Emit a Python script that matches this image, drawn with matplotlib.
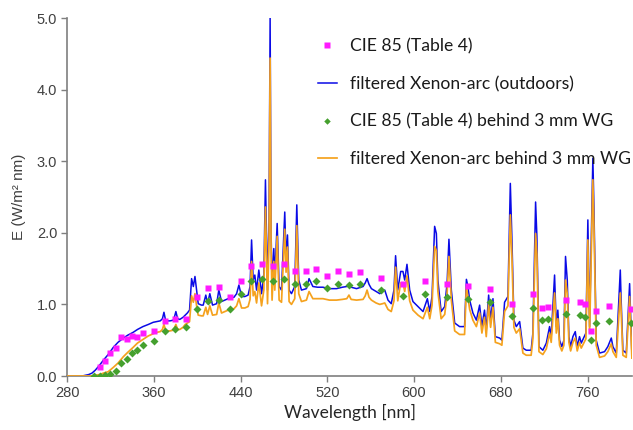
import matplotlib
matplotlib.use("Agg")
import matplotlib.pyplot as plt
from matplotlib.ticker import FormatStrFormatter

# CIE 85 (Table 4) points
cie_wl = [310, 315, 320, 325, 330, 335, 340, 345, 350, 360, 370, 380, 390, 400, 410, 420,
          430, 440, 450, 460, 470, 480, 490, 500, 510, 520, 530, 540, 550, 570, 590, 610,
          630, 650, 670, 690, 710, 718, 724, 740, 753, 758, 763, 768, 780, 800]
cie_out = [0.12, 0.21, 0.32, 0.39, 0.55, 0.52, 0.56, 0.55, 0.60, 0.63, 0.77, 0.80, 0.80, 1.10,
           1.23, 1.24, 1.11, 1.33, 1.54, 1.56, 1.54, 1.56, 1.47, 1.47, 1.49, 1.39, 1.47, 1.43,
           1.45, 1.37, 1.28, 1.33, 1.28, 1.26, 1.21, 1.01, 1.14, 0.945, 0.97, 1.06, 1.04, 1.01,
           0.63, 0.91, 0.98, 0.93]
cie_wg_wl = [305, 310, 315, 320, 325, 330, 335, 340, 345, 350, 360, 370, 380, 390, 400, 410,
             420, 430, 440, 450, 460, 470, 480, 490, 500, 510, 520, 530, 540, 550, 570, 590,
             610, 630, 650, 670, 690, 710, 718, 724, 740, 753, 758, 763, 768, 780, 800]
cie_wg = [0.0, 0.0, 0.01, 0.03, 0.07, 0.18, 0.24, 0.32, 0.36, 0.43, 0.49, 0.63, 0.66, 0.68,
          0.94, 1.05, 1.06, 0.94, 1.15, 1.33, 1.35, 1.33, 1.36, 1.28, 1.28, 1.32, 1.23, 1.29,
          1.27, 1.28, 1.20, 1.12, 1.15, 1.10, 1.07, 1.03, 0.84, 0.945, 0.78, 0.79, 0.87, 0.85,
          0.83, 0.50, 0.74, 0.77, 0.74]

# filtered Xenon-arc spectra
xe_wl = [280, 294, 297, 300, 303, 306, 310, 313.5, 318, 322.7, 327, 332, 336, 341, 345, 350,
         355, 359.5, 363, 366, 368, 369.4, 371, 375, 378, 379, 380.4, 382, 384, 387, 389, 391,
         393, 394.9, 396.5, 398, 399.5, 401, 404, 405.6, 408, 409.6, 411.7, 414.2, 418, 420,
         422.5, 428.6, 434, 436.4, 438.5, 441, 444, 447, 448.8, 450.2, 451.7, 453.2, 454.8,
         456.9, 459.4, 461.5, 463.0, 464.9, 466.3, 467.3, 468.2, 469.1, 470.7, 471.6, 473.8,
         475.6, 477.8, 480.8, 482.0, 483.3, 484.8, 487.0, 490.0, 491.9, 493.7, 496.2, 500.8,
         503.2, 506.7, 511, 516, 522, 528.5, 534, 538, 540, 542, 547, 553, 555, 556.7, 558.5,
         560.7, 565, 568.4, 571, 573, 576, 579, 581.5, 583, 585, 587.7, 589.8, 591.4, 593.5,
         596, 599, 603.7, 608.3, 612.3, 614.5, 616.6, 619.0, 620.6, 622, 625, 628.3, 630.5,
         632.2, 634.4, 637.5, 642, 646.6, 648.3, 649.7, 651.3, 654.3, 657.5, 660.5, 662.6,
         665, 666.6, 668.8, 670.6, 672.8, 675, 679, 681, 683.5, 686.6, 688.8, 690.3, 692.1,
         694.3, 697.4, 700.4, 703.5, 708, 709.6, 712.1, 713.3, 715.2, 718.8, 722, 725, 726.5,
         729.6, 731.2, 732.6, 734.2, 736.3, 738.2, 739.7, 741.3, 742.8, 744.4, 746.5, 748.7,
         750.5, 752.6, 754.2, 758.5, 760.3, 761.9, 764.9, 765.9, 768, 771.1, 775.7, 778.7,
         781.9, 783.4, 786.5, 790.2, 791, 792.6, 795.7, 798.8, 800.9]
xe_out = [0, 0, 0.01, 0.02, 0.04, 0.08, 0.15, 0.22, 0.30, 0.40, 0.47, 0.53, 0.57, 0.61, 0.65,
          0.69, 0.72, 0.75, 0.76, 0.77, 0.80, 0.89, 0.77, 0.77, 0.78, 0.82, 0.90, 0.80, 0.79,
          0.82, 0.85, 0.88, 0.92, 1.36, 1.25, 1.39, 1.20, 1.01, 0.99, 0.99, 1.13, 1.01, 1.15,
          0.99, 1.01, 1.20, 1.04, 1.08, 1.10, 1.15, 1.27, 1.11, 1.11, 1.13, 1.25, 1.90, 1.34,
          1.41, 1.20, 1.48, 1.15, 1.40, 2.74, 1.20, 2.20, 5.00, 2.00, 1.25, 1.78, 1.39, 2.13,
          1.25, 1.20, 2.29, 1.62, 1.97, 1.20, 1.15, 1.25, 2.39, 1.34, 1.20, 1.22, 1.36, 1.25,
          1.24, 1.24, 1.22, 1.22, 1.24, 1.25, 1.29, 1.24, 1.22, 1.25, 1.30, 1.36, 1.28, 1.22,
          1.18, 1.15, 1.18, 1.20, 1.06, 1.01, 1.20, 1.68, 1.20, 1.46, 1.46, 1.34, 1.56, 1.20,
          1.04, 0.97, 0.90, 1.08, 0.90, 1.11, 2.09, 1.99, 1.34, 0.90, 0.97, 1.30, 1.91, 1.20,
          0.74, 0.69, 0.69, 1.35, 1.25, 1.06, 0.88, 0.78, 0.99, 0.69, 0.92, 0.64, 1.13, 0.78,
          1.08, 0.55, 0.53, 0.50, 1.03, 1.11, 2.69, 1.90, 0.78, 0.69, 0.76, 0.39, 0.36, 0.36,
          0.60, 2.43, 1.95, 0.41, 0.36, 0.46, 0.69, 0.55, 1.41, 0.69, 0.92, 0.50, 0.41, 0.50,
          1.67, 1.34, 0.55, 0.41, 0.55, 0.62, 0.41, 0.55, 0.46, 0.60, 2.18, 0.69, 3.04, 2.36,
          0.50, 0.32, 0.34, 0.41, 0.53, 0.41, 0.32, 1.48, 1.06, 0.36, 0.32, 1.29, 0.30]
xe_wg = [0, 0, 0, 0, 0, 0.01, 0.02, 0.04, 0.06, 0.12, 0.18, 0.27, 0.33, 0.40, 0.46, 0.51,
         0.56, 0.59, 0.61, 0.62, 0.65, 0.72, 0.63, 0.63, 0.64, 0.67, 0.72, 0.65, 0.65, 0.68,
         0.72, 0.74, 0.76, 1.12, 1.03, 1.15, 0.98, 0.85, 0.84, 0.84, 0.96, 0.86, 0.98, 0.85,
         0.86, 1.02, 0.88, 0.92, 0.94, 0.98, 1.08, 0.95, 0.95, 0.97, 1.07, 1.60, 1.12, 1.18,
         1.02, 1.30, 0.98, 1.20, 2.36, 1.01, 1.90, 4.44, 1.80, 1.06, 1.60, 1.20, 1.95, 1.06,
         1.03, 2.05, 1.45, 1.80, 1.04, 1.00, 1.08, 2.10, 1.15, 1.04, 1.06, 1.18, 1.08, 1.08,
         1.08, 1.06, 1.06, 1.07, 1.08, 1.13, 1.07, 1.06, 1.07, 1.12, 1.20, 1.10, 1.06, 1.02,
         1.00, 1.01, 1.02, 0.93, 0.90, 1.05, 1.52, 1.05, 1.30, 1.30, 1.18, 1.40, 1.05, 0.92,
         0.85, 0.80, 0.96, 0.80, 0.99, 1.81, 1.75, 1.18, 0.80, 0.86, 1.15, 1.67, 1.06, 0.63,
         0.58, 0.58, 1.25, 1.10, 0.93, 0.78, 0.69, 0.88, 0.60, 0.82, 0.55, 1.00, 0.68, 0.96,
         0.47, 0.45, 0.43, 0.90, 0.98, 2.25, 1.65, 0.68, 0.60, 0.66, 0.32, 0.29, 0.29, 0.52,
         1.99, 1.70, 0.34, 0.30, 0.38, 0.60, 0.47, 1.16, 0.60, 0.80, 0.43, 0.35, 0.43, 1.34,
         1.15, 0.47, 0.35, 0.47, 0.53, 0.35, 0.47, 0.39, 0.52, 1.90, 0.60, 2.74, 2.10, 0.43,
         0.26, 0.28, 0.34, 0.45, 0.34, 0.26, 1.16, 0.90, 0.29, 0.26, 1.11, 0.25]

x_ticks = [280, 360, 440, 520, 600, 680, 760]
y_ticks = [0, 1, 2, 3, 4, 5]

fig = plt.figure(figsize=(6.33, 4.30), dpi=100)
ax = fig.add_axes([67/633, 1-376/430, (632-67)/633, (376-18)/430])

l_out, = ax.plot(xe_wl, xe_out, color='#0A0AE6', lw=1.1, zorder=2,
                 label='filtered Xenon-arc (outdoors)')
l_wg, = ax.plot(xe_wl, xe_wg, color='#F5A21E', lw=1.25, zorder=3,
                label='filtered Xenon-arc behind 3 mm WG')
m_out, = ax.plot(cie_wl, cie_out, ls='none', marker='s', ms=5.0, color='#FF1AFF',
                 mec='none', zorder=4, label='CIE 85 (Table 4)')
m_wg, = ax.plot(cie_wg_wl, cie_wg, ls='none', marker='D', ms=4.4, color='#45A02E',
                mec='none', zorder=5, label='CIE 85 (Table 4) behind 3 mm WG')

ax.set_xlim(280, 801)
ax.set_ylim(0, 5)
ax.set_xticks(x_ticks)
ax.set_yticks(y_ticks)
ax.yaxis.set_major_formatter(FormatStrFormatter('%.1f'))
for s in ['top', 'right']:
    ax.spines[s].set_visible(False)
for s in ['left', 'bottom']:
    ax.spines[s].set_color('#7F7F7F')
    ax.spines[s].set_linewidth(1.2)
ax.tick_params(axis='both', colors='#7F7F7F', length=4, width=1.0, direction='out',
               labelcolor='#404040', labelsize=10.5, pad=3)
for lab in ax.get_xticklabels() + ax.get_yticklabels():
    lab.set_fontfamily('Liberation Sans')

ax.set_ylabel('E (W/m² nm)', fontfamily='Liberation Sans', fontsize=11, color='#404040',
              labelpad=8)
ax.set_xlabel('Wavelength [nm]', fontfamily='Lato', fontsize=12.5, color='#262626',
              labelpad=3)

leg = fig.legend(handles=[m_out, l_out, m_wg, l_wg], loc='upper left',
                 bbox_to_anchor=(318/633, 1-38/430), frameon=False,
                 prop={'family': 'Lato', 'size': 12.6}, labelspacing=1.24,
                 handlelength=1.08, handletextpad=0.75, borderpad=0, borderaxespad=0,
                 markerscale=0.75)
for t in leg.get_texts():
    t.set_color('#1A1A1A')

fig.savefig('out.png', dpi=100)
